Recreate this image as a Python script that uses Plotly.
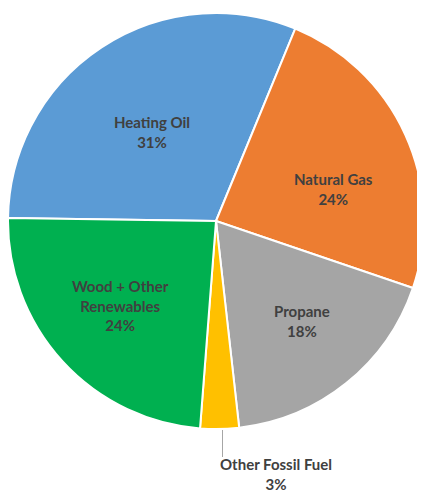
import plotly.graph_objects as go

labels = ["Heating Oil", "Natural Gas", "Propane", "Other Fossil Fuel", "Wood + Other<br>Renewables"]
values = [31, 24, 18, 3, 24]
colors = ["#5B9BD5", "#ED7D31", "#A5A5A5", "#FFC000", "#00B050"]

# page body has an 8px margin; figure coords = page coords - 8
OFF = 8
W, H = 417, 485
ML, MR, MT, MB = 0, 1, 5, 64
PW, PH = W - ML - MR, H - MT - MB

# label block centres (page pixels), in slice order
label_pos = [(152, 132), (333, 189), (302, 321), (276, 474), (121, 305)]

FONT = dict(family="Lato", size=15, color="#404040", weight="bold")

fig = go.Figure(go.Pie(
    labels=labels,
    values=values,
    sort=False,
    direction="clockwise",
    rotation=270.8,
    marker=dict(colors=colors, line=dict(color="white", width=2)),
    textinfo="none",
    showlegend=False,
    hoverinfo="label+percent",
))

def px(x):
    return (x - OFF - ML) / PW

def py(y):
    return (H - MB - (y - OFF)) / PH

total = sum(values)
for lab, v, (x, y) in zip(labels, values, label_pos):
    fig.add_annotation(xref="paper", yref="paper", x=px(x), y=py(y),
                       xanchor="center", yanchor="middle", showarrow=False,
                       text=f"{lab}<br>{round(100 * v / total)}%", font=FONT,
                       borderpad=0)

fig.add_shape(type="line", xref="paper", yref="paper",
              x0=px(222.5), x1=px(222.5), y0=py(430), y1=py(457),
              line=dict(color="#A6A6A6", width=1))

fig.update_layout(
    width=W, height=H,
    margin=dict(l=ML, r=MR, t=MT, b=MB),
    paper_bgcolor="white", plot_bgcolor="white",
)
fig.write_html("out.html")
